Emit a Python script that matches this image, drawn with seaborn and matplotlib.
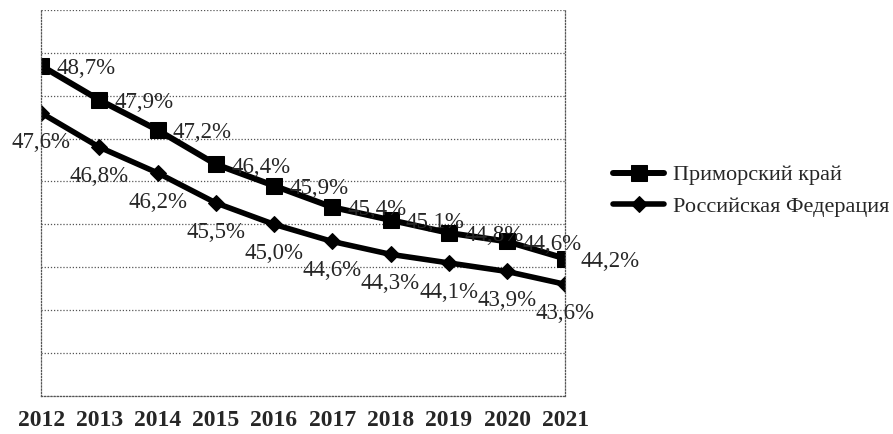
import matplotlib
matplotlib.use("Agg")
import matplotlib.pyplot as plt
import seaborn as sns
import pandas as pd

years = [2012, 2013, 2014, 2015, 2016, 2017, 2018, 2019, 2020, 2021]
primorye = [48.7, 47.9, 47.2, 46.4, 45.9, 45.4, 45.1, 44.8, 44.6, 44.2]
russia = [47.6, 46.8, 46.2, 45.5, 45.0, 44.6, 44.3, 44.1, 43.9, 43.6]
series_names = ["Приморский край", "Российская Федерация"]
grid_levels = list(range(41, 51))

sns.set_style("white")
plt.rcParams["font.family"] = ["Liberation Serif", "DejaVu Serif"]

df = pd.DataFrame({"year": years, "primorye": primorye, "russia": russia})

fig = plt.figure(figsize=(8.93, 4.34), dpi=100)
ax = fig.add_axes([0.046, 0.088, 0.587, 0.889])

sns.lineplot(data=df, x="year", y="primorye", color="black", linewidth=4.3,
             marker="s", markersize=11.5, markeredgecolor="black",
             label=series_names[0], ax=ax)
sns.lineplot(data=df, x="year", y="russia", color="black", linewidth=4.0,
             marker="D", markersize=8.5, markeredgecolor="black",
             label=series_names[1], ax=ax)

def fmt(v):
    return f"{v:.1f}%".replace(".", ",")

for x, v in zip(years, primorye):
    ax.annotate(fmt(v), (x, v), xytext=(11, -2), textcoords="offset points",
                ha="left", va="center", fontsize=16.5)
for x, v in zip(years, russia):
    ax.annotate(fmt(v), (x, v), xytext=(0, -21), textcoords="offset points",
                ha="center", va="center", fontsize=16.5)

ax.set_xlim(years[0], years[-1])
ax.set_ylim(grid_levels[0], grid_levels[-1])
ax.set_yticks(grid_levels)
ax.set_yticklabels([])
ax.set_xticks(years)
ax.set_xticklabels([str(y) for y in years], fontweight="bold", fontsize=17)
ax.set_xlabel("")
ax.set_ylabel("")
ax.yaxis.grid(True, linestyle=(0, (1, 1.5)), color="#555555", linewidth=0.9)
ax.tick_params(axis="x", direction="out", length=5, width=0.8, color="#666666", pad=5.5)
ax.tick_params(axis="y", direction="out", length=3, width=0.8, color="#666666")
for side in ["left", "right", "bottom"]:
    ax.spines[side].set_linestyle((0, (1, 1.5)))
    ax.spines[side].set_color("#555555")
    ax.spines[side].set_linewidth(0.9)
ax.spines["top"].set_visible(False)

handles, labels = ax.get_legend_handles_labels()
ax.legend(handles, labels, loc="center left", bbox_to_anchor=(613 / 893, 1 - 191 / 434),
          bbox_transform=fig.transFigure, frameon=False, fontsize=16,
          handlelength=2.3, handletextpad=0.4, labelspacing=0.5, borderaxespad=0,
          borderpad=0)

fig.savefig("out.png", dpi=100)
